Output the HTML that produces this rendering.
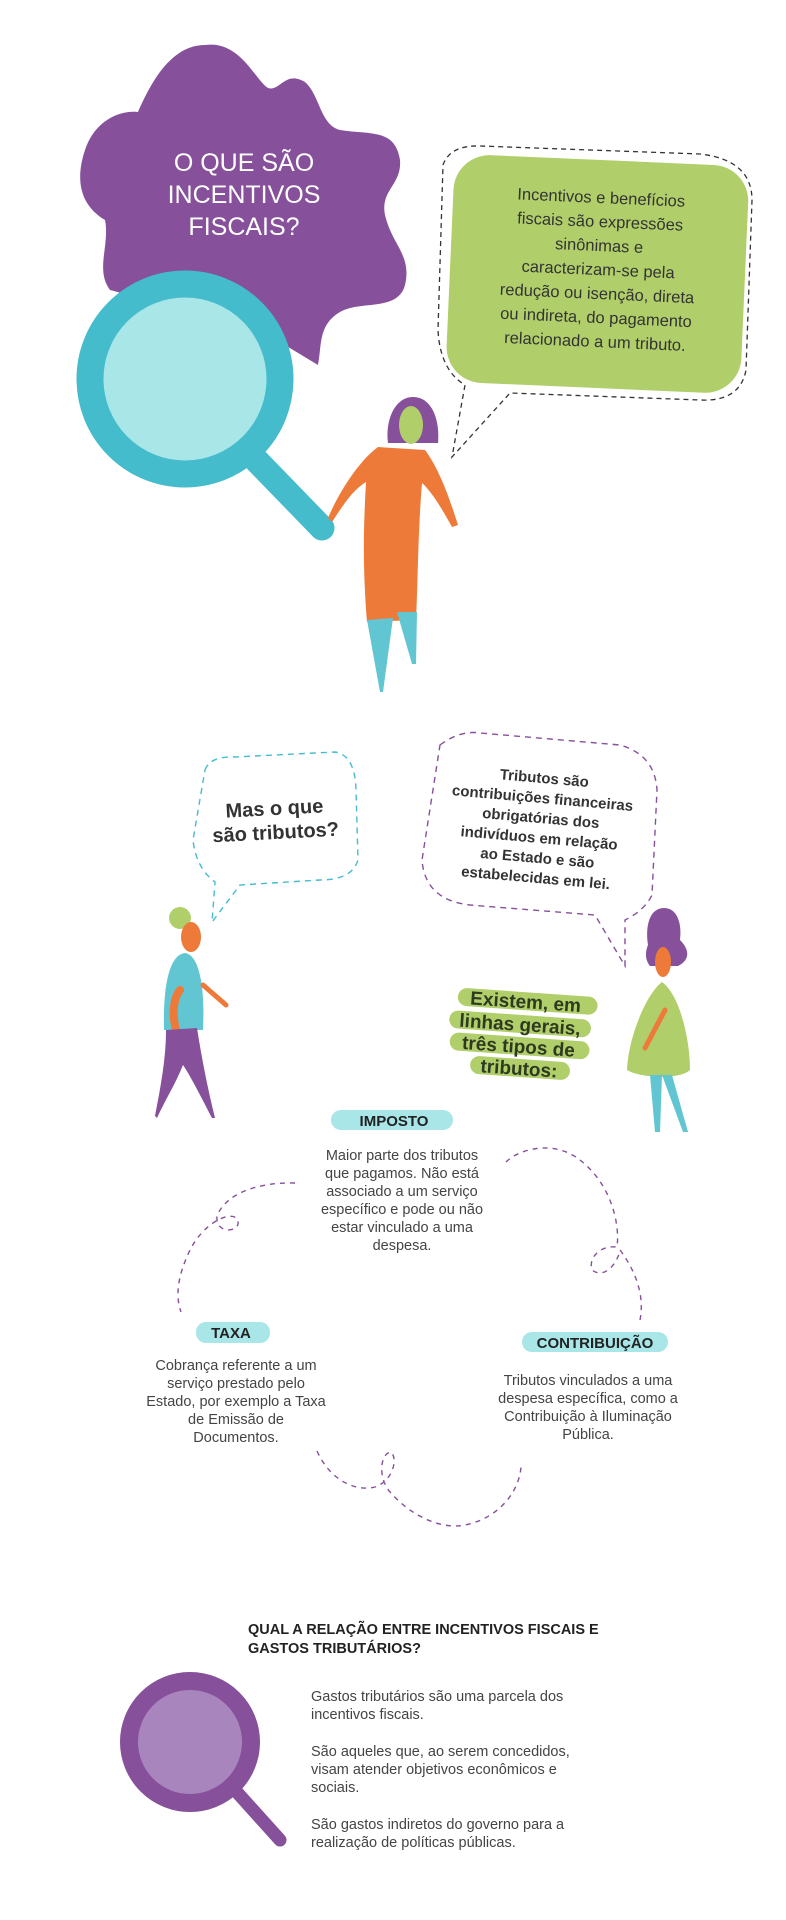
<!DOCTYPE html>
<html><head><meta charset="utf-8"><style>
html,body{margin:0;padding:0;background:#fff;}
svg{display:block}
text{font-family:"Liberation Sans",sans-serif;}
</style></head><body>
<svg width="786" height="1920" viewBox="0 0 786 1920" xmlns="http://www.w3.org/2000/svg">
<!-- purple blob -->
<path d="M205,45 C240,40 255,80 268,88 C280,92 285,70 305,82 C320,95 320,125 340,130 C370,135 395,128 400,160 C402,185 380,190 385,215 C392,245 412,255 405,285 C398,312 360,300 340,312 C318,325 322,345 318,365 L260,330 C200,320 150,300 110,290 C95,270 110,245 105,220 C80,205 75,180 85,150 C95,120 120,110 138,112 C150,85 170,45 205,45 Z" fill="#86509b"/>
<text fill="#fff" font-size="25" text-anchor="middle" font-weight="500"><tspan x="244" y="171">O QUE SÃO</tspan><tspan x="244" y="203">INCENTIVOS</tspan><tspan x="244" y="235">FISCAIS?</tspan></text>
<!-- magnifier -->
<line x1="257" y1="461" x2="322" y2="528" stroke="#45bccc" stroke-width="25" stroke-linecap="round"/>
<circle cx="185" cy="379" r="95" fill="#a8e6e8" stroke="#45bccc" stroke-width="27"/>
<!-- green bubble -->
<path d="M443,165 Q450,145 480,146 L700,154 Q752,160 752,200 L746,370 Q740,402 700,400 L510,393 L452,457 L465,385 Q440,370 438,330 Z" fill="none" stroke="#333" stroke-width="1.3" stroke-dasharray="5,4"/>
<g transform="rotate(2.5 598 272)">
<rect x="450" y="160" width="295" height="228" rx="36" fill="#b0ce6a"/>
<text fill="#333" font-size="16.5" text-anchor="middle"><tspan x="598" y="203">Incentivos e benefícios</tspan><tspan x="598" y="227">fiscais são expressões</tspan><tspan x="598" y="251">sinônimas e</tspan><tspan x="598" y="275">caracterizam-se pela</tspan><tspan x="598" y="299">redução ou isenção, direta</tspan><tspan x="598" y="323">ou indireta, do pagamento</tspan><tspan x="598" y="347">relacionado a um tributo.</tspan></text>
</g>
<!-- person 1 -->
<path d="M388,443 C385,420 395,397 413,397 C432,397 440,420 438,443 Z" fill="#86509b"/>
<ellipse cx="411" cy="425" rx="12" ry="19" fill="#b0ce6a"/>
<path d="M378,447 L425,450 C440,470 450,500 458,525 L452,527 C440,505 430,490 422,483 C418,530 418,580 416,620 L367,622 C362,560 364,520 366,482 C352,490 340,510 332,522 L328,518 C340,490 360,460 378,447 Z" fill="#ee7a3a"/>
<path d="M367,620 L393,618 L383,692 L380,692 Z M397,612 L417,612 L416,664 L412,664 Z" fill="#62c6d2"/>
<!-- cyan bubble -->
<path d="M205,770 Q210,756 235,757 L335,752 Q355,755 356,790 L358,860 Q352,880 320,880 L240,885 L212,922 L215,882 Q196,868 193,840 Z" fill="none" stroke="#45bccc" stroke-width="1.4" stroke-dasharray="6,5"/>
<text fill="#333" font-size="20" text-anchor="middle" font-weight="bold" transform="rotate(-3 275 820)"><tspan x="275" y="815">Mas o que</tspan><tspan x="275" y="839">são tributos?</tspan></text>
<!-- purple bubble -->
<path d="M440,745 Q460,730 480,733 L620,745 Q655,755 657,790 L652,895 Q645,910 625,920 L625,966 L595,915 L470,905 Q425,900 422,860 Z" fill="none" stroke="#86509b" stroke-width="1.4" stroke-dasharray="6,5"/>
<text fill="#333" font-size="15" text-anchor="middle" font-weight="bold" transform="rotate(5 540 828)"><tspan x="540" y="783">Tributos são</tspan><tspan x="540" y="803">contribuições financeiras</tspan><tspan x="540" y="823">obrigatórias dos</tspan><tspan x="540" y="843">indivíduos em relação</tspan><tspan x="540" y="863">ao Estado e são</tspan><tspan x="540" y="883">estabelecidas em lei.</tspan></text>
<!-- person 2 -->
<circle cx="180" cy="918" r="11" fill="#b0ce6a"/>
<ellipse cx="191" cy="937" rx="10" ry="15" fill="#ee7a3a"/>
<path d="M164,1030 C163,990 168,955 185,953 C200,955 205,990 203,1030 Z" fill="#62c6d2"/>
<path d="M203,985 L226,1005" stroke="#ee7a3a" stroke-width="5" stroke-linecap="round"/>
<path d="M180,990 C172,1000 172,1020 178,1036" stroke="#ee7a3a" stroke-width="8" stroke-linecap="round" fill="none"/>
<path d="M166,1030 L197,1028 C202,1060 208,1090 215,1118 L212,1118 C200,1095 190,1075 183,1065 C175,1085 165,1100 157,1118 L155,1116 C160,1090 166,1060 166,1030 Z" fill="#86509b"/>
<!-- person 3 -->
<path d="M648,945 C645,925 650,908 664,908 C678,908 682,925 680,940 C690,950 690,960 678,966 L650,966 C645,960 645,952 648,945 Z" fill="#86509b"/>
<ellipse cx="663" cy="962" rx="8" ry="15" fill="#ee7a3a"/>
<path d="M662,982 C680,995 690,1040 690,1070 C680,1080 640,1078 627,1070 C628,1040 645,995 662,982 Z" fill="#b0ce6a"/>
<path d="M665,1010 L645,1048" stroke="#ee7a3a" stroke-width="5" stroke-linecap="round"/>
<path d="M650,1075 L662,1075 L660,1132 L655,1132 Z M662,1075 L672,1075 L688,1132 L683,1132 Z" fill="#62c6d2"/>
<!-- Existem -->
<g transform="rotate(4 521 1040)" font-weight="bold" font-size="19" fill="#2e3a20" text-anchor="middle">
<rect x="455" y="992" width="140" height="18" rx="9" fill="#b0ce6a"/>
<rect x="448" y="1015" width="142" height="18" rx="9" fill="#b0ce6a"/>
<rect x="450" y="1037" width="140" height="18" rx="9" fill="#b0ce6a"/>
<rect x="472" y="1059" width="100" height="18" rx="9" fill="#b0ce6a"/>
<text x="523" y="1008">Existem, em</text><text x="519" y="1031">linhas gerais,</text><text x="519" y="1053">três tipos de</text><text x="521" y="1075">tributos:</text>
</g>
<!-- IMPOSTO -->
<rect x="331" y="1110" width="122" height="20" rx="10" fill="#a8e6e8"/>
<text x="394" y="1126" font-size="15" font-weight="bold" text-anchor="middle" fill="#222">IMPOSTO</text>
<text fill="#444" font-size="14.5" text-anchor="middle"><tspan x="402" y="1160">Maior parte dos tributos</tspan><tspan x="402" y="1178">que pagamos. Não está</tspan><tspan x="402" y="1196">associado a um serviço</tspan><tspan x="402" y="1214">específico e pode ou não</tspan><tspan x="402" y="1232">estar vinculado a uma</tspan><tspan x="402" y="1250">despesa.</tspan></text>
<!-- dashed curves -->
<g fill="none" stroke="#86509b" stroke-width="1.4" stroke-dasharray="5,5">
<path d="M295,1183 C255,1182 225,1195 217,1216 C215,1235 240,1232 238,1222 C236,1208 205,1220 190,1250 C178,1275 175,1295 181,1312"/>
<path d="M506,1162 C520,1148 555,1140 580,1160 C612,1185 620,1225 617,1247 C600,1245 588,1258 592,1270 C605,1280 618,1262 620,1250 C635,1270 645,1295 640,1320"/>
<path d="M317,1451 C330,1480 355,1492 375,1487 C395,1480 398,1455 390,1452 C380,1455 378,1478 390,1492 C410,1515 440,1530 465,1525 C500,1518 520,1490 521,1466"/>
</g>
<!-- TAXA -->
<rect x="196" y="1322" width="74" height="21" rx="10" fill="#a8e6e8"/>
<text x="231" y="1338" font-size="15" font-weight="bold" text-anchor="middle" fill="#222">TAXA</text>
<text fill="#444" font-size="14.5" text-anchor="middle"><tspan x="236" y="1370">Cobrança referente a um</tspan><tspan x="236" y="1388">serviço prestado pelo</tspan><tspan x="236" y="1406">Estado, por exemplo a Taxa</tspan><tspan x="236" y="1424">de Emissão de</tspan><tspan x="236" y="1442">Documentos.</tspan></text>
<!-- CONTRIBUIÇÃO -->
<rect x="522" y="1332" width="146" height="20" rx="10" fill="#a8e6e8"/>
<text x="595" y="1348" font-size="15" font-weight="bold" text-anchor="middle" fill="#222">CONTRIBUIÇÃO</text>
<text fill="#444" font-size="14.5" text-anchor="middle"><tspan x="588" y="1385">Tributos vinculados a uma</tspan><tspan x="588" y="1403">despesa específica, como a</tspan><tspan x="588" y="1421">Contribuição à Iluminação</tspan><tspan x="588" y="1439">Pública.</tspan></text>
<!-- heading -->
<text fill="#222" font-size="14.5" font-weight="bold"><tspan x="248" y="1634">QUAL A RELAÇÃO ENTRE INCENTIVOS FISCAIS E</tspan><tspan x="248" y="1653">GASTOS TRIBUTÁRIOS?</tspan></text>
<!-- purple magnifier -->
<line x1="235" y1="1790" x2="280" y2="1840" stroke="#86509b" stroke-width="13" stroke-linecap="round"/>
<circle cx="190" cy="1742" r="61" fill="#a886bd" stroke="#86509b" stroke-width="18"/>
<text fill="#444" font-size="14.5"><tspan x="311" y="1701">Gastos tributários são uma parcela dos</tspan><tspan x="311" y="1719">incentivos fiscais.</tspan><tspan x="311" y="1756">São aqueles que, ao serem concedidos,</tspan><tspan x="311" y="1774">visam atender objetivos econômicos e</tspan><tspan x="311" y="1792">sociais.</tspan><tspan x="311" y="1829">São gastos indiretos do governo para a</tspan><tspan x="311" y="1847">realização de políticas públicas.</tspan></text>
</svg>
</body></html>
